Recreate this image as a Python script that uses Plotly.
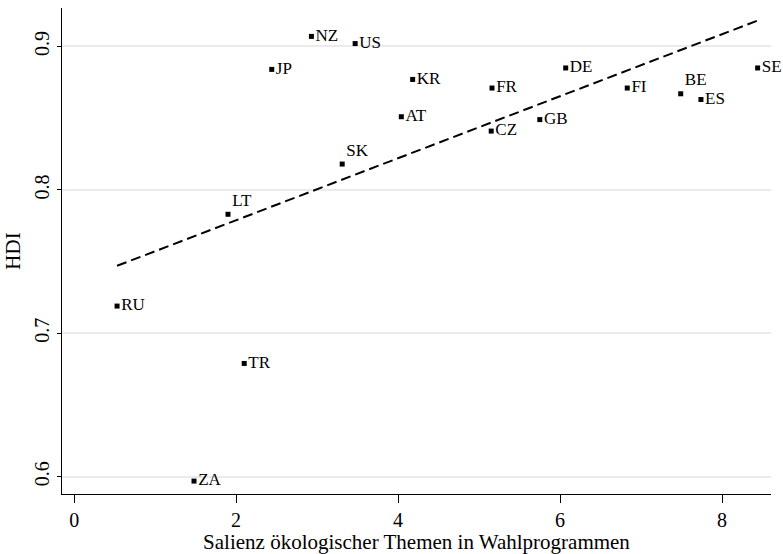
import numpy as np
import plotly.graph_objects as go

countries = ["NZ", "US", "JP", "LT", "SK", "AT", "KR", "FR", "CZ", "GB",
             "DE", "FI", "BE", "ES", "SE", "RU", "TR", "ZA"]
salience = [2.93, 3.47, 2.44, 1.90, 3.31, 4.04, 4.18, 5.16, 5.15, 5.75,
            6.07, 6.83, 7.49, 7.74, 8.44, 0.53, 2.10, 1.48]
hdi = [0.907, 0.902, 0.884, 0.783, 0.818, 0.851, 0.877, 0.871, 0.841, 0.849,
       0.885, 0.871, 0.867, 0.863, 0.885, 0.719, 0.679, 0.597]
raised = ["LT", "SK", "BE"]

x_ticks = [0, 2, 4, 6, 8]
y_ticks = [0.6, 0.7, 0.8, 0.9]

FONT = "Liberation Serif, Times New Roman, serif"

slope, intercept = np.polyfit(salience, hdi, 1)
fx = np.array([min(salience), max(salience)])
fy = intercept + slope * fx

fig = go.Figure()
fig.add_trace(go.Scatter(
    x=fx, y=fy, mode="lines",
    line=dict(color="black", width=2, dash="10px,5px"),
    hoverinfo="skip", showlegend=False))
fig.add_trace(go.Scatter(
    x=salience, y=hdi, mode="markers+text",
    marker=dict(symbol="square", size=5, color="black"),
    text=countries,
    textposition=["top right" if c in raised else "middle right" for c in countries],
    textfont=dict(family=FONT, size=17, color="black"),
    cliponaxis=False,
    showlegend=False))

fig.update_layout(
    width=783, height=554,
    margin=dict(l=62, r=12, t=8, b=57),
    paper_bgcolor="white", plot_bgcolor="white",
    font=dict(family=FONT, color="black"),
    xaxis=dict(
        range=[-0.15, 8.605], tickvals=x_ticks, ticktext=[str(v) for v in x_ticks],
        showgrid=False, zeroline=False, showline=True, linecolor="black", linewidth=1,
        ticks="outside", ticklen=8, tickcolor="black",
        tickfont=dict(family=FONT, size=20),
        title=dict(text="Salienz ökologischer Themen in Wahlprogrammen",
                   font=dict(family=FONT, size=21), standoff=0)),
    yaxis=dict(
        range=[0.588, 0.9268], tickvals=y_ticks, ticktext=[f"{v:.1f}" for v in y_ticks],
        showgrid=True, gridcolor="#ebebeb", gridwidth=1.5,
        zeroline=False, showline=True, linecolor="black", linewidth=1,
        ticks="outside", ticklen=4, tickcolor="black", tickangle=-90,
        tickfont=dict(family=FONT, size=20),
        title=dict(text="HDI", font=dict(family=FONT, size=21), standoff=4)),
)

fig.write_html("out.html")
